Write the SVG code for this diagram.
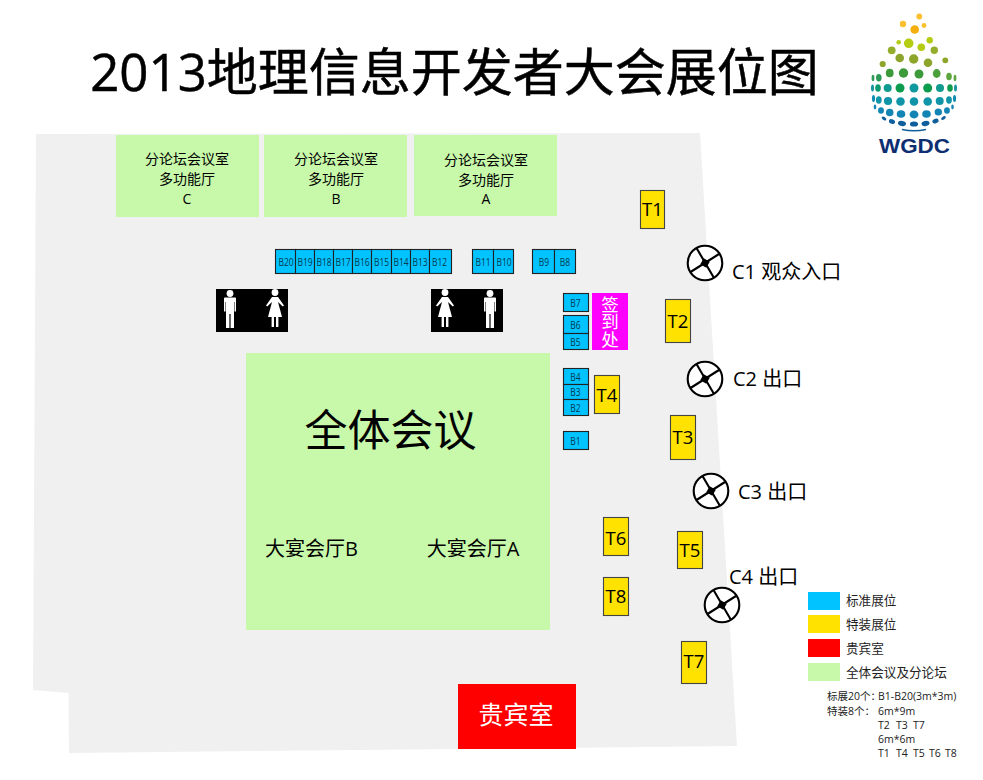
<svg xmlns="http://www.w3.org/2000/svg" width="983" height="780" viewBox="0 0 983 780">
<style>
text{font-family:"Open Sans","Noto Sans CJK SC",sans-serif;fill:#000;text-anchor:middle}
.b rect{fill:#00c3ff;stroke:#222;stroke-width:1.100}
.b text{font-size:11px;fill:#063a50;font-family:"Open Sans",sans-serif}
.t rect{fill:#ffe200;stroke:#444;stroke-width:1.100}
.t text{font-size:18.500px}
.g{fill:#c8f9aa}
.r text{font-size:14px}
.c text{font-size:20px;text-anchor:start}
.l text{font-size:12.600px;text-anchor:start;fill:#222}
.s text{font-size:10.500px;text-anchor:start;fill:#222;white-space:pre}
.ic{fill:#fff}
</style>
<defs>
<g id="door"><circle r="17.300" fill="#fff" stroke="#000" stroke-width="2.100"/><path d="M-14.500 9L14 -9M-8.500 -15L9 15" stroke="#000" stroke-width="2.100"/><rect x="-3.500" y="-3.500" width="7" height="7" fill="#000" transform="rotate(30)"/></g>
<g id="man"><circle cy="-17.500" r="3.400" class="ic"/><path d="M-6 -12.500Q-6 -13.500 -5 -13.500H5Q6 -13.500 6 -12.500V0.500H4.500V-9H4V17H0.600V3H-0.600V17H-4V-9H-4.500V0.500H-6Z" class="ic"/></g>
<g id="woman"><circle cy="-17.500" r="3.400" class="ic"/><path d="M-3 -13H3L9 -4.500L7.800 -3.400L3 -8L7 7H3.400V17H1V7H-1V17H-3.400V7H-7L-3 -8L-7.800 -3.400L-9 -4.500Z" class="ic"/></g>
</defs>
<rect width="983" height="780" fill="#fff"/>
<polygon id="floor" points="36,134 700,133 737,746 69,753 68.500,693 33,690" fill="#f0f0f0"/>
<text id="title" x="454.500" y="91" font-size="51" stroke="#000" stroke-width="0.500">2013地理信息开发者大会展位图</text>

<g id="logo">
<circle cx="919.300" cy="16.500" r="2.900" fill="#fbc02d"/><circle cx="903" cy="24" r="3.200" fill="#fbc02d"/><circle cx="924" cy="25.500" r="2.400" fill="#fbc02d"/><circle cx="914.700" cy="29.500" r="4.300" fill="#f5ae0c"/>
<circle cx="898.700" cy="42.300" r="2.300" fill="#b4cd12"/><circle cx="908.700" cy="43.300" r="4.800" fill="#b4cd12"/><circle cx="929.700" cy="40.300" r="3.200" fill="#b4cd12"/><circle cx="921.300" cy="47.300" r="3.800" fill="#b4cd12"/>
<circle cx="891.700" cy="50.300" r="3.900" fill="#94ad2a"/><circle cx="934.300" cy="50.300" r="3.700" fill="#94ad2a"/><circle cx="899.700" cy="58" r="4.300" fill="#8ca52a"/><circle cx="913.700" cy="59" r="4.700" fill="#8ca52a"/><circle cx="928" cy="62.700" r="4.300" fill="#8ca52a"/><circle cx="882.700" cy="64" r="3.100" fill="#8ca52a"/><circle cx="945.300" cy="60.300" r="2.900" fill="#8ca52a"/>
<ellipse cx="889.700" cy="73" rx="3.900" ry="4.300" fill="#3c9a3a"/><circle cx="903.500" cy="73" r="4.700" fill="#3c9a3a"/><circle cx="919" cy="74" r="4.500" fill="#3c9a3a"/><ellipse cx="936.700" cy="73.500" rx="3.900" ry="4.400" fill="#4ca03c"/><ellipse cx="949" cy="76.500" rx="2.800" ry="3.800" fill="#5da53e"/><ellipse cx="878.800" cy="77.700" rx="2.800" ry="3.700" fill="#2e9a55"/><ellipse cx="873" cy="78" rx="1.400" ry="3.200" fill="#2e9a55"/><ellipse cx="955" cy="78" rx="1.400" ry="3.200" fill="#5da53e"/>
<ellipse cx="872.500" cy="88" rx="1.500" ry="3.500" fill="#17949f"/><ellipse cx="878" cy="88" rx="2.800" ry="3.800" fill="#0a9a70"/><circle cx="887.700" cy="88" r="4" fill="#109a90"/><circle cx="900" cy="88" r="4.500" fill="#0b9c4e"/><circle cx="914" cy="88" r="4.500" fill="#109aa0"/><circle cx="927.700" cy="88" r="4.500" fill="#0b9c4e"/><circle cx="940" cy="88" r="4" fill="#109a90"/><ellipse cx="950" cy="88" rx="2.800" ry="3.800" fill="#0b9c4e"/><ellipse cx="955.500" cy="88" rx="1.500" ry="3.500" fill="#17949f"/>
<ellipse cx="873.500" cy="98.500" rx="1.600" ry="3.500" fill="#128fb0"/><ellipse cx="878.800" cy="100" rx="2.900" ry="3.700" fill="#1095a8"/><circle cx="888" cy="101" r="4.100" fill="#1095a8"/><circle cx="900.500" cy="101.500" r="4.300" fill="#1095a8"/><circle cx="914" cy="101.500" r="4.300" fill="#1095a8"/><circle cx="927.700" cy="101.500" r="4.300" fill="#1095a8"/><circle cx="939.700" cy="101" r="4" fill="#1095a8"/><ellipse cx="949" cy="100" rx="2.900" ry="3.700" fill="#1095a8"/><ellipse cx="954.500" cy="98.500" rx="1.600" ry="3.500" fill="#128fb0"/>
<ellipse cx="881" cy="110.500" rx="2.900" ry="3.300" fill="#1285b5"/><circle cx="889.700" cy="112.500" r="3.800" fill="#1285b5"/><ellipse cx="901" cy="114" rx="4.300" ry="3.800" fill="#1285b5"/><ellipse cx="914" cy="114.500" rx="4.400" ry="3.900" fill="#1285b5"/><ellipse cx="926.500" cy="114" rx="4.300" ry="3.800" fill="#1285b5"/><ellipse cx="938.300" cy="112" rx="3.700" ry="3.500" fill="#1285b5"/><ellipse cx="947" cy="110.500" rx="2.900" ry="3.200" fill="#1285b5"/><ellipse cx="875" cy="107" rx="1.300" ry="2.400" fill="#1285b5"/><ellipse cx="952.500" cy="107" rx="1.300" ry="2.400" fill="#1285b5"/>
<ellipse cx="884" cy="118.500" rx="2.600" ry="1.600" fill="#0f5f9c" transform="rotate(35 884 118.500)"/><ellipse cx="892" cy="121.500" rx="3.200" ry="2.300" fill="#0f5f9c" transform="rotate(25 892 121.500)"/><ellipse cx="902" cy="123.500" rx="4.100" ry="2.500" fill="#0f5f9c" transform="rotate(12 902 123.500)"/><ellipse cx="914" cy="124" rx="4.100" ry="2.600" fill="#0f5f9c"/><ellipse cx="925.500" cy="123.500" rx="4.100" ry="2.500" fill="#0f5f9c" transform="rotate(-12 925.500 123.500)"/><ellipse cx="935.500" cy="121" rx="3.200" ry="2.300" fill="#0f5f9c" transform="rotate(-25 935.500 121)"/><ellipse cx="943.500" cy="118" rx="2.600" ry="1.500" fill="#0f5f9c" transform="rotate(-35 943.500 118)"/>
<path d="M902 129.500Q914 132 926 129.500" fill="none" stroke="#0f5f9c" stroke-width="1.500"/>
<text x="914.500" y="153" font-size="20" font-weight="700" textLength="71" lengthAdjust="spacingAndGlyphs" style="fill:#0d2f72;font-family:'Liberation Sans',sans-serif">WGDC</text>
</g>

<g id="connectors"></g>

<g id="room-c" class="r"><rect class="g" x="116" y="135" width="143" height="82"/><text x="187" y="164">分论坛会议室</text><text x="187" y="184">多功能厅</text><text x="187" y="204">C</text></g>
<g id="room-b" class="r"><rect class="g" x="264" y="135" width="143" height="82"/><text x="336" y="164">分论坛会议室</text><text x="336" y="184">多功能厅</text><text x="336" y="204">B</text></g>
<g id="room-a" class="r"><rect class="g" x="414" y="135" width="143" height="81"/><text x="486" y="165">分论坛会议室</text><text x="486" y="185">多功能厅</text><text x="486" y="204">A</text></g>

<g id="booths-b" class="b">
<rect x="275.500" y="249.500" width="20" height="24"/><text transform="translate(286 265.500) scale(.77 1)">B20</text>
<rect x="295.500" y="249.500" width="19" height="24"/><text transform="translate(305 265.500) scale(.77 1)">B19</text>
<rect x="314.500" y="249.500" width="19" height="24"/><text transform="translate(324 265.500) scale(.77 1)">B18</text>
<rect x="333.500" y="249.500" width="19" height="24"/><text transform="translate(343 265.500) scale(.77 1)">B17</text>
<rect x="352.500" y="249.500" width="19" height="24"/><text transform="translate(362 265.500) scale(.77 1)">B16</text>
<rect x="371.500" y="249.500" width="20" height="24"/><text transform="translate(381.500 265.500) scale(.77 1)">B15</text>
<rect x="391.500" y="249.500" width="19" height="24"/><text transform="translate(401 265.500) scale(.77 1)">B14</text>
<rect x="410.500" y="249.500" width="19" height="24"/><text transform="translate(420 265.500) scale(.77 1)">B13</text>
<rect x="429.500" y="249.500" width="22" height="24"/><text transform="translate(439.500 265.500) scale(.77 1)">B12</text>
<rect x="472.500" y="249.500" width="21" height="24"/><text transform="translate(483 265.500) scale(.77 1)">B11</text>
<rect x="493.500" y="249.500" width="20" height="24"/><text transform="translate(504 265.500) scale(.77 1)">B10</text>
<rect x="532.500" y="249.500" width="22" height="24"/><text transform="translate(544 265.500) scale(.77 1)">B9</text>
<rect x="554.500" y="249.500" width="21" height="24"/><text transform="translate(565 265.500) scale(.77 1)">B8</text>
<rect x="563.500" y="293.500" width="25" height="18"/><text transform="translate(575.500 307) scale(.77 1)">B7</text>
<rect x="563.500" y="315.500" width="25" height="18"/><text transform="translate(575.500 329) scale(.77 1)">B6</text>
<rect x="563.500" y="333.500" width="25" height="16"/><text transform="translate(575.500 345.500) scale(.77 1)">B5</text>
<rect x="563.500" y="368.500" width="25" height="16"/><text transform="translate(575.500 380.500) scale(.77 1)">B4</text>
<rect x="563.500" y="384.500" width="25" height="15"/><text transform="translate(575.500 396) scale(.77 1)">B3</text>
<rect x="563.500" y="399.500" width="25" height="16"/><text transform="translate(575.500 411.500) scale(.77 1)">B2</text>
<rect x="563.500" y="431.500" width="25" height="18"/><text transform="translate(575.500 444.500) scale(.77 1)">B1</text>
</g>

<g id="wc-left"><rect x="216" y="289" width="72" height="43" fill="#000"/><use href="#man" x="230" y="311"/><use href="#woman" x="275" y="310"/></g>
<g id="wc-right"><rect x="431" y="289" width="72" height="43" fill="#000"/><use href="#woman" x="445" y="310"/><use href="#man" x="490" y="311"/></g>

<g id="checkin"><rect x="592" y="293" width="36" height="57" fill="#f0f"/><text x="609.500" y="321.500" font-size="17.500" writing-mode="vertical-rl" style="fill:#fff">签到处</text></g>

<g id="t-booths" class="t">
<rect x="640.500" y="190.500" width="24" height="38"/><text x="652.500" y="216">T1</text>
<rect x="665.500" y="299.500" width="25" height="43"/><text x="678" y="327.500">T2</text>
<rect x="670.500" y="415.500" width="25" height="44"/><text x="683" y="443.500">T3</text>
<rect x="594.500" y="375.500" width="25" height="38"/><text x="607" y="401.500">T4</text>
<rect x="677.500" y="531.500" width="25" height="37"/><text x="690" y="556.500">T5</text>
<rect x="603.500" y="517.500" width="25" height="38"/><text x="616" y="544.500">T6</text>
<rect x="681.500" y="641.500" width="25" height="42"/><text x="694" y="667.500">T7</text>
<rect x="603.500" y="577.500" width="25" height="38"/><text x="616" y="602.500">T8</text>
</g>

<g id="plenary"><rect class="g" x="246" y="353" width="304" height="277"/><text x="390.500" y="446" font-size="43">全体会议</text><text x="311.500" y="556" font-size="20">大宴会厅B</text><text x="473" y="556" font-size="20">大宴会厅A</text></g>

<g id="vip"><rect x="458" y="684" width="118" height="65" fill="#f00"/><text x="516" y="724" font-size="25" style="fill:#fff">贵宾室</text></g>

<g id="door-c1" class="c"><use href="#door" x="705" y="263"/><text x="732" y="279">C1 观众入口</text></g>
<g id="door-c2" class="c"><use href="#door" x="705" y="379"/><text x="733" y="386">C2 出口</text></g>
<g id="door-c3" class="c"><use href="#door" x="711" y="491"/><text x="738" y="499">C3 出口</text></g>
<g id="door-c4" class="c"><use href="#door" x="722" y="605"/><text x="729" y="584">C4 出口</text></g>

<g id="legend" class="l">
<rect x="808" y="592" width="32" height="18" fill="#00c3ff"/><text x="846" y="605">标准展位</text>
<rect x="808" y="615" width="32" height="18" fill="#ffe200"/><text x="846" y="628.500">特装展位</text>
<rect x="808" y="639" width="32" height="18" fill="#f00"/><text x="846" y="652.500">贵宾室</text>
<rect x="808" y="663" width="32" height="18" fill="#c8f9aa"/><text x="846" y="676.500">全体会议及分论坛</text>
</g>
<g id="notes" class="s">
<text x="827" y="700">标展20个：</text><text x="878" y="700">B1-B20(3m*3m)</text>
<text x="827" y="715">特装8个：</text>
<text x="878" y="715">6m*9m</text>
<text x="878" y="729">T2</text><text x="896" y="729">T3</text><text x="913" y="729">T7</text>
<text x="878" y="743">6m*6m</text>
<text x="878" y="757">T1</text><text x="896" y="757">T4</text><text x="913" y="757">T5</text><text x="929" y="757">T6</text><text x="945" y="757">T8</text>
</g>
</svg>
